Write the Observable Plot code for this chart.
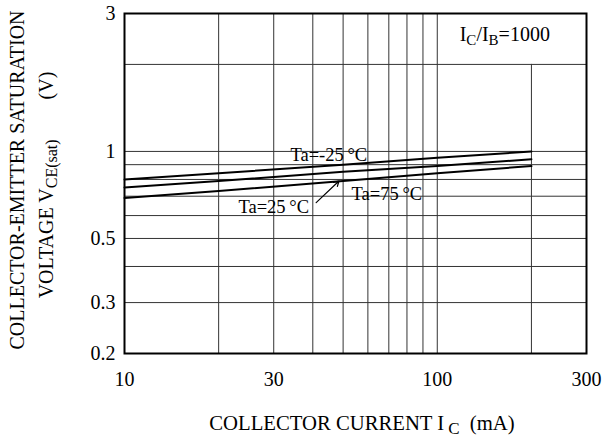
<!DOCTYPE html>
<html>
<head>
<meta charset="utf-8">
<script src="https://cdn.jsdelivr.net/npm/d3@7"></script>
<script src="https://cdn.jsdelivr.net/npm/@observablehq/plot@0.6"></script>
<style>
  html, body { margin: 0; padding: 0; background: #fff; }
  #chart svg { display: block; }
</style>
</head>
<body>
<div id="chart"></div>
<script>
// ---- data ----
const xTicks = [10, 30, 50, 100, 300];
const yTicks = [0.2, 0.3, 0.5, 1, 3];
const xGridFull = [20, 30, 40, 50, 60, 70, 80, 90, 100];
const xGridPartial = [200];
const yGrid = [0.3, 0.4, 0.5, 0.6, 0.7, 0.8, 0.9, 1, 2];

const current = [10, 20, 50, 100, 200];           // mA
const vceMinus25 = [0.80, 0.84, 0.90, 0.95, 1.00]; // V
const vce25      = [0.75, 0.79, 0.85, 0.89, 0.94];
const vce75      = [0.69, 0.73, 0.79, 0.84, 0.89];

const seriesNames = ["Ta=-25°C", "Ta=25°C", "Ta=75°C"];
const seriesValues = [vceMinus25, vce25, vce75];

const labelText = ["Ta=-25\u2009°C", "Ta=25\u2009°C", "Ta=75\u2009°C"];
const labelX = [45, 30, 69];
const labelY = [0.975, 0.64, 0.71];

const arrowFrom = [41, 0.665];
const arrowTo = [48.5, 0.79];

const ratioPos = [165, 2.5];

// ---- build tables ----
const curves = seriesNames.flatMap((name, i) =>
  current.map((c, j) => ({series: name, ic: c, vce: seriesValues[i][j]})));
const labels = labelText.map((t, i) => ({text: t, x: labelX[i], y: labelY[i]}));

const font = "'Liberation Serif', 'Times New Roman', serif";
const gridColor = "#333";

const plot = Plot.plot({
  width: 602,
  height: 439,
  marginLeft: 124,
  marginRight: 16,
  marginTop: 13,
  marginBottom: 86,
  style: {fontFamily: font, fontSize: "20px", background: "white", color: "black"},
  x: {type: "log", domain: [10, 300], label: null},
  y: {type: "log", domain: [0.2, 3], label: null},
  marks: [
    Plot.ruleX(xGridFull, {stroke: gridColor, strokeWidth: 1}),
    Plot.ruleX(xGridPartial, {y1: 0.2, y2: 2, stroke: gridColor, strokeWidth: 1}),
    Plot.ruleY(yGrid, {stroke: gridColor, strokeWidth: 1}),
    Plot.line(curves, {x: "ic", y: "vce", z: "series", stroke: "black", strokeWidth: 2}),
    Plot.text(labels, {x: "x", y: "y", text: "text", fontSize: 18.5, fontFamily: font, fill: "black"}),
    Plot.arrow([{x1: arrowFrom[0], y1: arrowFrom[1], x2: arrowTo[0], y2: arrowTo[1]}],
      {x1: "x1", y1: "y1", x2: "x2", y2: "y2", stroke: "black", strokeWidth: 1.2, headLength: 7}),
    Plot.frame({stroke: "black", strokeWidth: 2}),
    Plot.axisX(xTicks, {tickSize: 0, tickPadding: 18, fontSize: 20, tickFormat: d => String(d), label: null}),
    Plot.axisY(yTicks, {tickSize: 0, tickPadding: 9, fontSize: 20, tickFormat: d => String(d), label: null})
  ]
});

document.getElementById("chart").appendChild(plot);

const svg = d3.select(plot);
const sx = plot.scale("x"), sy = plot.scale("y");

// white boxes behind the curve labels (they hide the grid, not the curves)
const lineGroup = plot.querySelector('g[aria-label="line"]');
const maskGroup = document.createElementNS("http://www.w3.org/2000/svg", "g");
plot.insertBefore(maskGroup, lineGroup);
svg.selectAll('g[aria-label="text"] text').each(function () {
  const b = this.getBBox();
  d3.select(maskGroup).append("rect")
    .attr("x", b.x - 5).attr("y", b.y)
    .attr("width", b.width + 13).attr("height", b.height + 3)
    .attr("fill", "white");
});

// I_C / I_B annotation with subscripts
const r = svg.append("text")
  .attr("x", sx.apply(ratioPos[0]))
  .attr("y", sy.apply(ratioPos[1]) + 5)
  .attr("text-anchor", "middle")
  .attr("font-family", font)
  .attr("font-size", 20)
  .attr("fill", "black");
r.append("tspan").text("I");
r.append("tspan").attr("font-size", 15).attr("dy", 4).text("C");
r.append("tspan").attr("dy", -4).text("/I");
r.append("tspan").attr("font-size", 15).attr("dy", 4).text("B");
r.append("tspan").attr("dy", -4).text("=1000");

// x-axis title
const xt = svg.append("text")
  .attr("x", 362).attr("y", 430)
  .attr("text-anchor", "middle")
  .attr("font-family", font).attr("font-size", 20.7).attr("fill", "black");
xt.append("tspan").text("COLLECTOR CURRENT I");
xt.append("tspan").attr("font-size", 17).attr("dy", 4).attr("dx", 4).text("C");
xt.append("tspan").attr("dy", -4).text("\u2002(mA)");

// y-axis title (two lines)
svg.append("text")
  .attr("transform", "translate(24,180) rotate(-90)")
  .attr("text-anchor", "middle")
  .attr("font-family", font).attr("font-size", 20).attr("fill", "black")
  .text("COLLECTOR-EMITTER SATURATION");
const yt = svg.append("text")
  .attr("transform", "translate(53,185) rotate(-90)")
  .attr("text-anchor", "middle")
  .attr("font-family", font).attr("font-size", 20).attr("fill", "black");
yt.append("tspan").text("VOLTAGE V");
yt.append("tspan").attr("font-size", 16).attr("dy", 4).text("CE(sat)");
yt.append("tspan").attr("dy", -4).text("\u2003\u2003(V)");
</script>
</body>
</html>
